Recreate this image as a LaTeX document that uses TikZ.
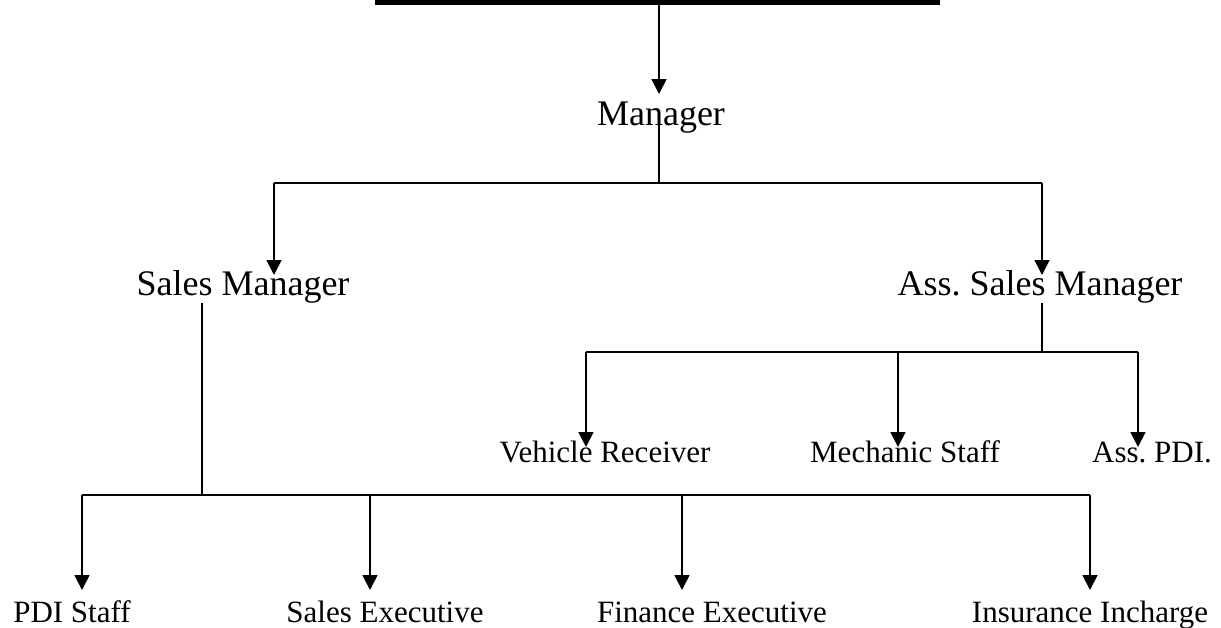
\documentclass[tikz,border=0pt]{standalone}
\usepackage{fontspec}
\setmainfont{Liberation Serif}
\usetikzlibrary{arrows.meta}
\frenchspacing
\begin{document}
\begin{tikzpicture}[x=1pt,y=-1pt,
  bigtxt/.style={inner sep=0pt,anchor=base,font=\fontsize{36}{40}\selectfont},
  smalltxt/.style={inner sep=0pt,anchor=base,font=\fontsize{31}{36}\selectfont},
  link/.style={line width=1.5pt},
  feed/.style={line width=1.8pt,-{Triangle[width=15pt,length=15pt]}}]
\useasboundingbox (0,0) rectangle (1221,627);

% heading bar
\fill (375,0) rectangle (940,4.5);
\coordinate (bar) at (659,4);

% titles
\node[bigtxt] (mgr) at (661,125) {Manager};
\node[bigtxt] (sm)  at (243,295) {Sales Manager};
\node[bigtxt] (asm) at (1040,295) {Ass. Sales Manager};

\node[smalltxt] (vr)  at (605,462) {Vehicle Receiver};
\node[smalltxt] (ms)  at (905,462) {Mechanic Staff};
\node[smalltxt] (apdi) at (1152,462) {Ass. PDI.};

\node[smalltxt] (pdi) at (72,622) {PDI Staff};
\node[smalltxt] (se)  at (385,622) {Sales Executive};
\node[smalltxt] (fe)  at (712,622) {Finance Executive};
\node[smalltxt] (ii)  at (1090,622) {Insurance Incharge};

% arrow tips and junctions
\coordinate (mgr-in) at (659,94);
\coordinate (mgr-out) at (659,123);
\coordinate (bus1) at (659,183);
\coordinate (sm-in) at (274,275);
\coordinate (asm-in) at (1042,275);
\coordinate (sm-out) at (202,303);
\coordinate (asm-out) at (1042,303);
\coordinate (bus2) at (1042,352);
\coordinate (vr-in) at (586,447);
\coordinate (ms-in) at (898,447);
\coordinate (apdi-in) at (1138,447);
\coordinate (bus3) at (202,495);
\coordinate (pdi-in) at (82,590);
\coordinate (se-in) at (370,590);
\coordinate (fe-in) at (682,590);
\coordinate (ii-in) at (1090,590);

% top level
\draw[feed] (bar) -- (mgr-in);
\draw[link] (mgr-out) -- (bus1);
\draw[link] (sm-in |- bus1) -- (asm-in |- bus1);
\draw[feed] (sm-in |- bus1) -- (sm-in);
\draw[feed] (asm-in |- bus1) -- (asm-in);

% assistant sales manager branch
\draw[link] (asm-out) -- (bus2);
\draw[link] (vr-in |- bus2) -- (apdi-in |- bus2);
\draw[feed] (vr-in |- bus2) -- (vr-in);
\draw[feed] (ms-in |- bus2) -- (ms-in);
\draw[feed] (apdi-in |- bus2) -- (apdi-in);

% sales manager branch
\draw[link] (sm-out) -- (bus3);
\draw[link] (pdi-in |- bus3) -- (ii-in |- bus3);
\draw[feed] (pdi-in |- bus3) -- (pdi-in);
\draw[feed] (se-in |- bus3) -- (se-in);
\draw[feed] (fe-in |- bus3) -- (fe-in);
\draw[feed] (ii-in |- bus3) -- (ii-in);
\end{tikzpicture}
\end{document}
